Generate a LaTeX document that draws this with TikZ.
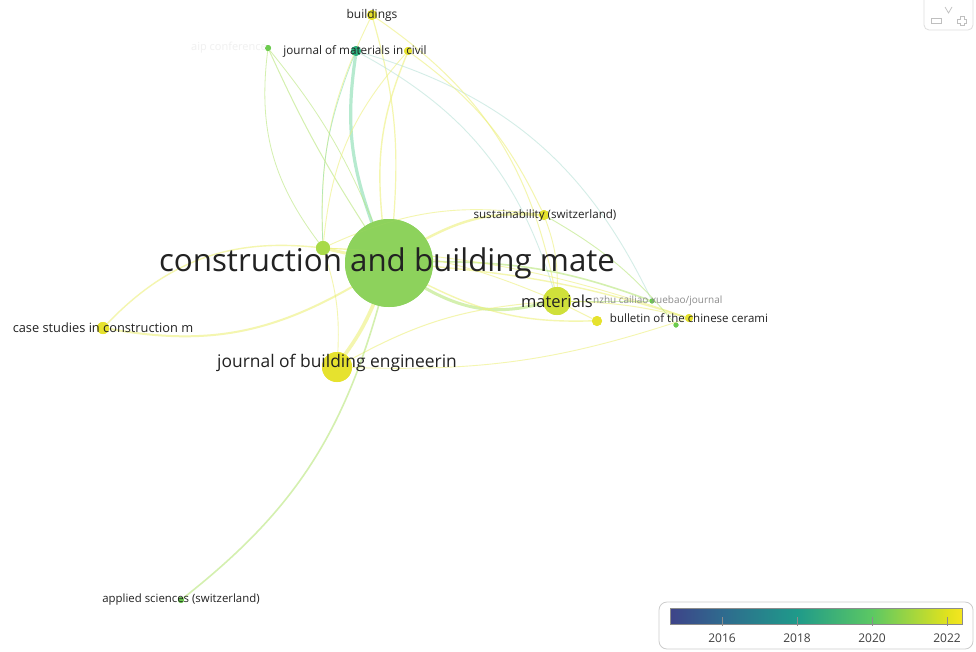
\documentclass[tikz,border=0pt]{standalone}
\usepackage{fontspec}
\setmainfont{Open Sans}
\usetikzlibrary{shapes.geometric}

% overlay colour scale (publication year)
\definecolor{vA}{HTML}{3E4389}
\definecolor{vB}{HTML}{2F6A8E}
\definecolor{vC}{HTML}{1F9A8A}
\definecolor{vD}{HTML}{5CC863}
\definecolor{vE}{HTML}{E0E21E}
\definecolor{vF}{HTML}{F5E61F}
\pgfdeclarehorizontalshading{yearbar}{100bp}{%
  color(0bp)=(vA); color(25bp)=(vA); color(33.9bp)=(vB); color(46.7bp)=(vC);
  color(59.6bp)=(vD); color(72.4bp)=(vE); color(75bp)=(vF); color(100bp)=(vF)}

% node colours
\definecolor{cbmgreen}{HTML}{8DD25C}
\definecolor{yel}{HTML}{E6E22E}
\definecolor{yelgreen}{HTML}{CFE03A}
\definecolor{limeg}{HTML}{A8DA48}
\definecolor{teal}{HTML}{2DB27D}
\definecolor{midgreen}{HTML}{6CCB4E}
% link colours
\definecolor{lyel}{HTML}{EDF07A}
\definecolor{lgreen}{HTML}{B8E67A}
\definecolor{lteal}{HTML}{86DDB0}
\definecolor{lblue}{HTML}{B8E2D8}
\definecolor{labeltext}{HTML}{222222}

\tikzset{
  jnode/.style={circle, inner sep=0pt, minimum size=#1, draw=none},
  lnk/.style={line width=#1, opacity=0.6},
  lnk/.default=1pt,
  lab/.style={text=labeltext, inner sep=0pt, font=\fontsize{#1}{#1}\selectfont},
}

\begin{document}
\begin{tikzpicture}[x=1pt, y=-1pt]
\useasboundingbox (0,0) rectangle (976,651);
\fill[white] (0,0) rectangle (976,651);

% ---- journals (circles) ----
\path
  (389,263) node[jnode=88pt, fill=cbmgreen] (cbm) {}
  (337,367) node[jnode=30pt, fill=yel] (jbe) {}
  (557,301) node[jnode=28pt, fill=yelgreen] (mat) {}
  (103,328) node[jnode=12pt, fill=yel] (csc) {}
  (323,248) node[jnode=14pt, fill=limeg] (n323) {}
  (372,15) node[jnode=10pt, fill=yel] (bld) {}
  (356,51) node[jnode=10pt, fill=teal] (jmc) {}
  (408,51) node[jnode=8pt, fill=yel] (n408) {}
  (268,48) node[jnode=6pt, fill=midgreen] (aip) {}
  (544,215) node[jnode=10pt, fill=yel] (sus) {}
  (652,301) node[jnode=5pt, fill=midgreen] (jzc) {}
  (597,321) node[jnode=10pt, fill=yel] (n597) {}
  (689,318) node[jnode=8pt, fill=yel] (bcc) {}
  (676,325) node[jnode=5pt, fill=midgreen] (n676) {}
  (181,600) node[jnode=6pt, fill=midgreen] (aps) {};

% ---- co-citation links ----
\draw[lnk=3.2pt, lteal] (cbm) to[bend left=14] (jmc);
\draw[lnk=1.2pt, lyel] (cbm) to[bend right=10] (bld);
\draw[lnk=1.4pt, lyel] (cbm) to[bend left=14] (n408);
\draw[lnk=1pt, lgreen] (cbm) to[bend left=4] (aip);
\draw[lnk=0.8pt, lgreen] (aip) to[bend right=22] (n323);
\draw[lnk=0.8pt, lgreen] (aip) to[bend left=8] (cbm);
\draw[lnk=0.9pt, lblue] (jmc) to[bend left=22] (mat);
\draw[lnk=0.9pt, lblue] (jmc) to[bend left=24] (jzc);
\draw[lnk=1pt, lyel] (n408) to[bend left=14] (sus);
\draw[lnk=1pt, lyel] (bld) to[bend left=22] (mat);
\draw[lnk=0.9pt, lyel] (bld) to[bend right=14] (n323);
\draw[lnk=0.9pt, lyel] (n408) to[bend right=18] (n323);
\draw[lnk=0.7pt, lteal] (jmc) to[bend right=12] (n323);
\draw[lnk=2.4pt, lyel] (cbm) to[bend left=16] (sus);
\draw[lnk=1.6pt, lgreen] (cbm) to[bend left=10] (jzc);
\draw[lnk=1.4pt, lyel] (cbm) to[bend left=6] (bcc);
\draw[lnk=3pt, lgreen] (cbm) to[bend right=22] (mat);
\draw[lnk=1.4pt, lyel] (cbm) to[bend right=14] (n597);
\draw[lnk=3.6pt, lyel] (jbe) to[bend right=6] (cbm);
\draw[lnk=1pt, lyel] (jbe) to[bend left=12] (mat);
\draw[lnk=2pt, lyel] (csc) to[bend right=20] (cbm);
\draw[lnk=1.4pt, lyel] (csc) to[bend left=26] (n323);
\draw[lnk=3pt, lyel] (n323) -- (cbm);
\draw[lnk=1.6pt, lgreen] (aps) to[bend right=18] (cbm);
\draw[lnk=0.9pt, lyel] (n323) to[bend left=10] (mat);
\draw[lnk=0.9pt, lyel] (n323) to[bend left=10] (jbe);
\draw[lnk=0.9pt, lyel] (n323) to[bend left=16] (sus);
\draw[lnk=0.9pt, lyel] (n323) to[bend left=8] (bcc);
\draw[lnk=0.9pt, lyel] (sus) to[bend left=10] (mat);
\draw[lnk=1pt, lgreen] (mat) -- (jzc);
\draw[lnk=1pt, lyel] (mat) -- (n597);
\draw[lnk=1pt, lyel] (mat) to[bend left=6] (bcc);
\draw[lnk=0.9pt, lgreen] (sus) to[bend left=10] (n676);
\draw[lnk=0.9pt, lyel] (jbe) to[bend right=10] (bcc);

% circles again on top of the links
\path
  (389,263) node[jnode=88pt, fill=cbmgreen, opacity=0.92] {}
  (337,367) node[jnode=30pt, fill=yel] {}
  (557,301) node[jnode=28pt, fill=yelgreen] {}
  (103,328) node[jnode=12pt, fill=yel] {}
  (323,248) node[jnode=14pt, fill=limeg] {}
  (372,15) node[jnode=10pt, fill=yel] {}
  (356,51) node[jnode=10pt, fill=teal] {}
  (408,51) node[jnode=8pt, fill=yel] {}
  (268,48) node[jnode=6pt, fill=midgreen] {}
  (544,215) node[jnode=10pt, fill=yel] {}
  (652,301) node[jnode=5pt, fill=midgreen] {}
  (597,321) node[jnode=10pt, fill=yel] {}
  (689,318) node[jnode=8pt, fill=yel] {}
  (676,325) node[jnode=5pt, fill=midgreen] {}
  (181,600) node[jnode=6pt, fill=midgreen] {};

% ---- labels ----
\node[lab=11, text=black!6] (laip) at (229,48) {aip conference};
\node[lab=10, text=black!45, anchor=west] (ljzc) at (593,301) {nzhu cailiao xuebao/journal};
\node[lab=31.3] (lcbm) at (387,263) {construction and building mate};
\node[lab=17.4] (ljbe) at (337,363) {journal of building engineerin};
\node[lab=16.5] (lmat) at (557,301) {materials};
\node[lab=12.8] (lcsc) at (103,328) {case studies in construction m};
\node[lab=12] (lbld) at (372,15) {buildings};
\node[lab=11.7] (ljmc) at (355,51) {journal of materials in civil};
\node[lab=11.6] (lsus) at (545,215) {sustainability (switzerland)};
\node[lab=11.5] (lbcc) at (689,318) {bulletin of the chinese cerami};
\node[lab=11.4] (laps) at (181,600) {applied sciences (switzerland)};

% ---- zoom control ----
\draw[black!13, line width=0.8pt, rounded corners=5pt] (924,-2) -- (924,30) -- (973,30) -- (973,-2);
\draw[black!25, line width=0.7pt] (945,7) -- (948.5,13) -- (952,7);
\draw[black!25, line width=0.7pt] (931,18.5) rectangle (941,23.5);
\draw[black!25, line width=0.7pt] (960,16.5) -- (964,16.5) -- (964,19) -- (966.5,19) -- (966.5,23) -- (964,23) -- (964,25.5) -- (960,25.5) -- (960,23) -- (957.5,23) -- (957.5,19) -- (960,19) -- cycle;

% ---- year colour bar ----
\draw[black!20, line width=0.8pt, fill=white, rounded corners=8pt] (659,602) rectangle (973,649);
\shade[shading=yearbar] (670,608) rectangle (962,624);
\draw[black!45, line width=0.6pt] (670,608) rectangle (962,624);
\foreach \x/\yr in {722/2016, 797/2018, 872/2020, 947/2022}{
  \draw[black!45, line width=0.7pt] (\x,617) -- (\x,626);
  \node[text=black!75, inner sep=0pt, font=\fontsize{12}{12}\selectfont] at (\x,638) {\yr};
}
\end{tikzpicture}
\end{document}
